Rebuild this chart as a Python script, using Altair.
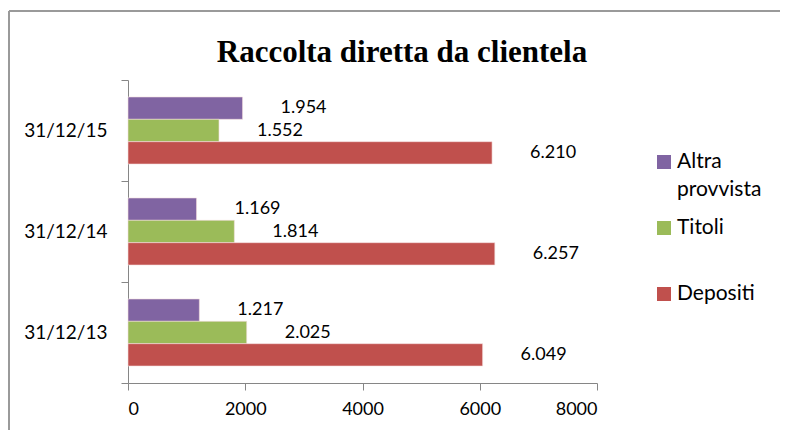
import altair as alt
import pandas as pd

categories = ["31/12/13", "31/12/14", "31/12/15"]
series = ["Altra provvista", "Titoli", "Depositi"]
altra = [1217, 1169, 1954]
titoli = [2025, 1814, 1552]
depositi = [6049, 6257, 6210]
colors = ["#8064A2", "#9BBB59", "#C0504D"]
x_ticks = [0, 2000, 4000, 6000, 8000]
title_text = "Raccolta diretta da clientela"

rows = []
for s, vals in zip(series, [altra, titoli, depositi]):
    for c, v in zip(categories, vals):
        rows.append({"cat": c, "series": s, "value": v,
                     "label": f"{v:,}".replace(",", ".")})
df = pd.DataFrame(rows)
leg = pd.DataFrame({"series": series})
one = pd.DataFrame({"t": [title_text]})

axis_gray = "#868686"

color = alt.Color("series:N", scale=alt.Scale(domain=series, range=colors), legend=None)
x_enc = alt.X("value:Q", scale=alt.Scale(domain=[0, 8000], nice=False),
              axis=alt.Axis(values=x_ticks, format="d", grid=False, title=None,
                            tickSize=7, labelPadding=10, labelFontSize=18))
y_enc = alt.Y("cat:N", sort=categories[::-1],
              scale=alt.Scale(paddingInner=0, paddingOuter=0),
              axis=alt.Axis(title=None, tickBand="extent", tickSize=7,
                            labelPadding=14, labelFontSize=19))
yoff = alt.YOffset("series:N", sort=series,
                   scale=alt.Scale(paddingInner=0, paddingOuter=0.76))

base = alt.Chart(df).encode(x=x_enc, y=y_enc, yOffset=yoff)
bars = base.mark_bar(stroke="#f3dede", strokeWidth=0.6).encode(color=color)
labels = base.mark_text(align="left", baseline="middle", dx=38, font="Lato",
                        fontSize=18).encode(text="label:N", color=alt.value("black"))

main = alt.layer(bars, labels)

leg_y = alt.Y("series:N", scale=alt.Scale(type="point", domain=series,
                                          range=[82, 214], padding=0), axis=None)
leg_sq = alt.Chart(leg).mark_square(size=196, opacity=1).encode(
    x=alt.value(536), y=leg_y, color=color)
leg_tx = alt.Chart(leg).mark_text(align="left", baseline="middle", font="Lato",
                                  fontSize=21, lineBreak=" ",
                                  lineHeight=28).encode(
    x=alt.value(549), y=leg_y, text="series:N", color=alt.value("black"))

legend = alt.layer(leg_sq, leg_tx)

title = alt.Chart(one).mark_text(font="Liberation Serif", fontSize=31,
                                 fontWeight="bold", baseline="alphabetic",
                                 align="center").encode(
    x=alt.value(274), y=alt.value(-18), text="t:N", color=alt.value("black"))

border_top = alt.Chart(one).mark_rule(color="#9a9a9a", strokeWidth=2).encode(
    x=alt.value(-119), x2=alt.value(652), y=alt.value(-69))
border_left = alt.Chart(one).mark_rule(color="#9a9a9a", strokeWidth=2).encode(
    x=alt.value(-119), y=alt.value(-69), y2=alt.value(400))

chart = alt.layer(main, legend, title, border_top, border_left).resolve_scale(
    y="independent"
).properties(
    width=469, height=303,
    autosize=alt.AutoSizeParams(type="none"),
    padding={"left": 120, "top": 72, "right": 183, "bottom": 47},
).configure_view(stroke=None).configure_axis(
    labelFont="Lato", labelColor="black", domainColor=axis_gray,
    tickColor=axis_gray, domainWidth=1, tickWidth=1
)

chart.save("out.html", embed_options={"renderer": "svg", "actions": False})
